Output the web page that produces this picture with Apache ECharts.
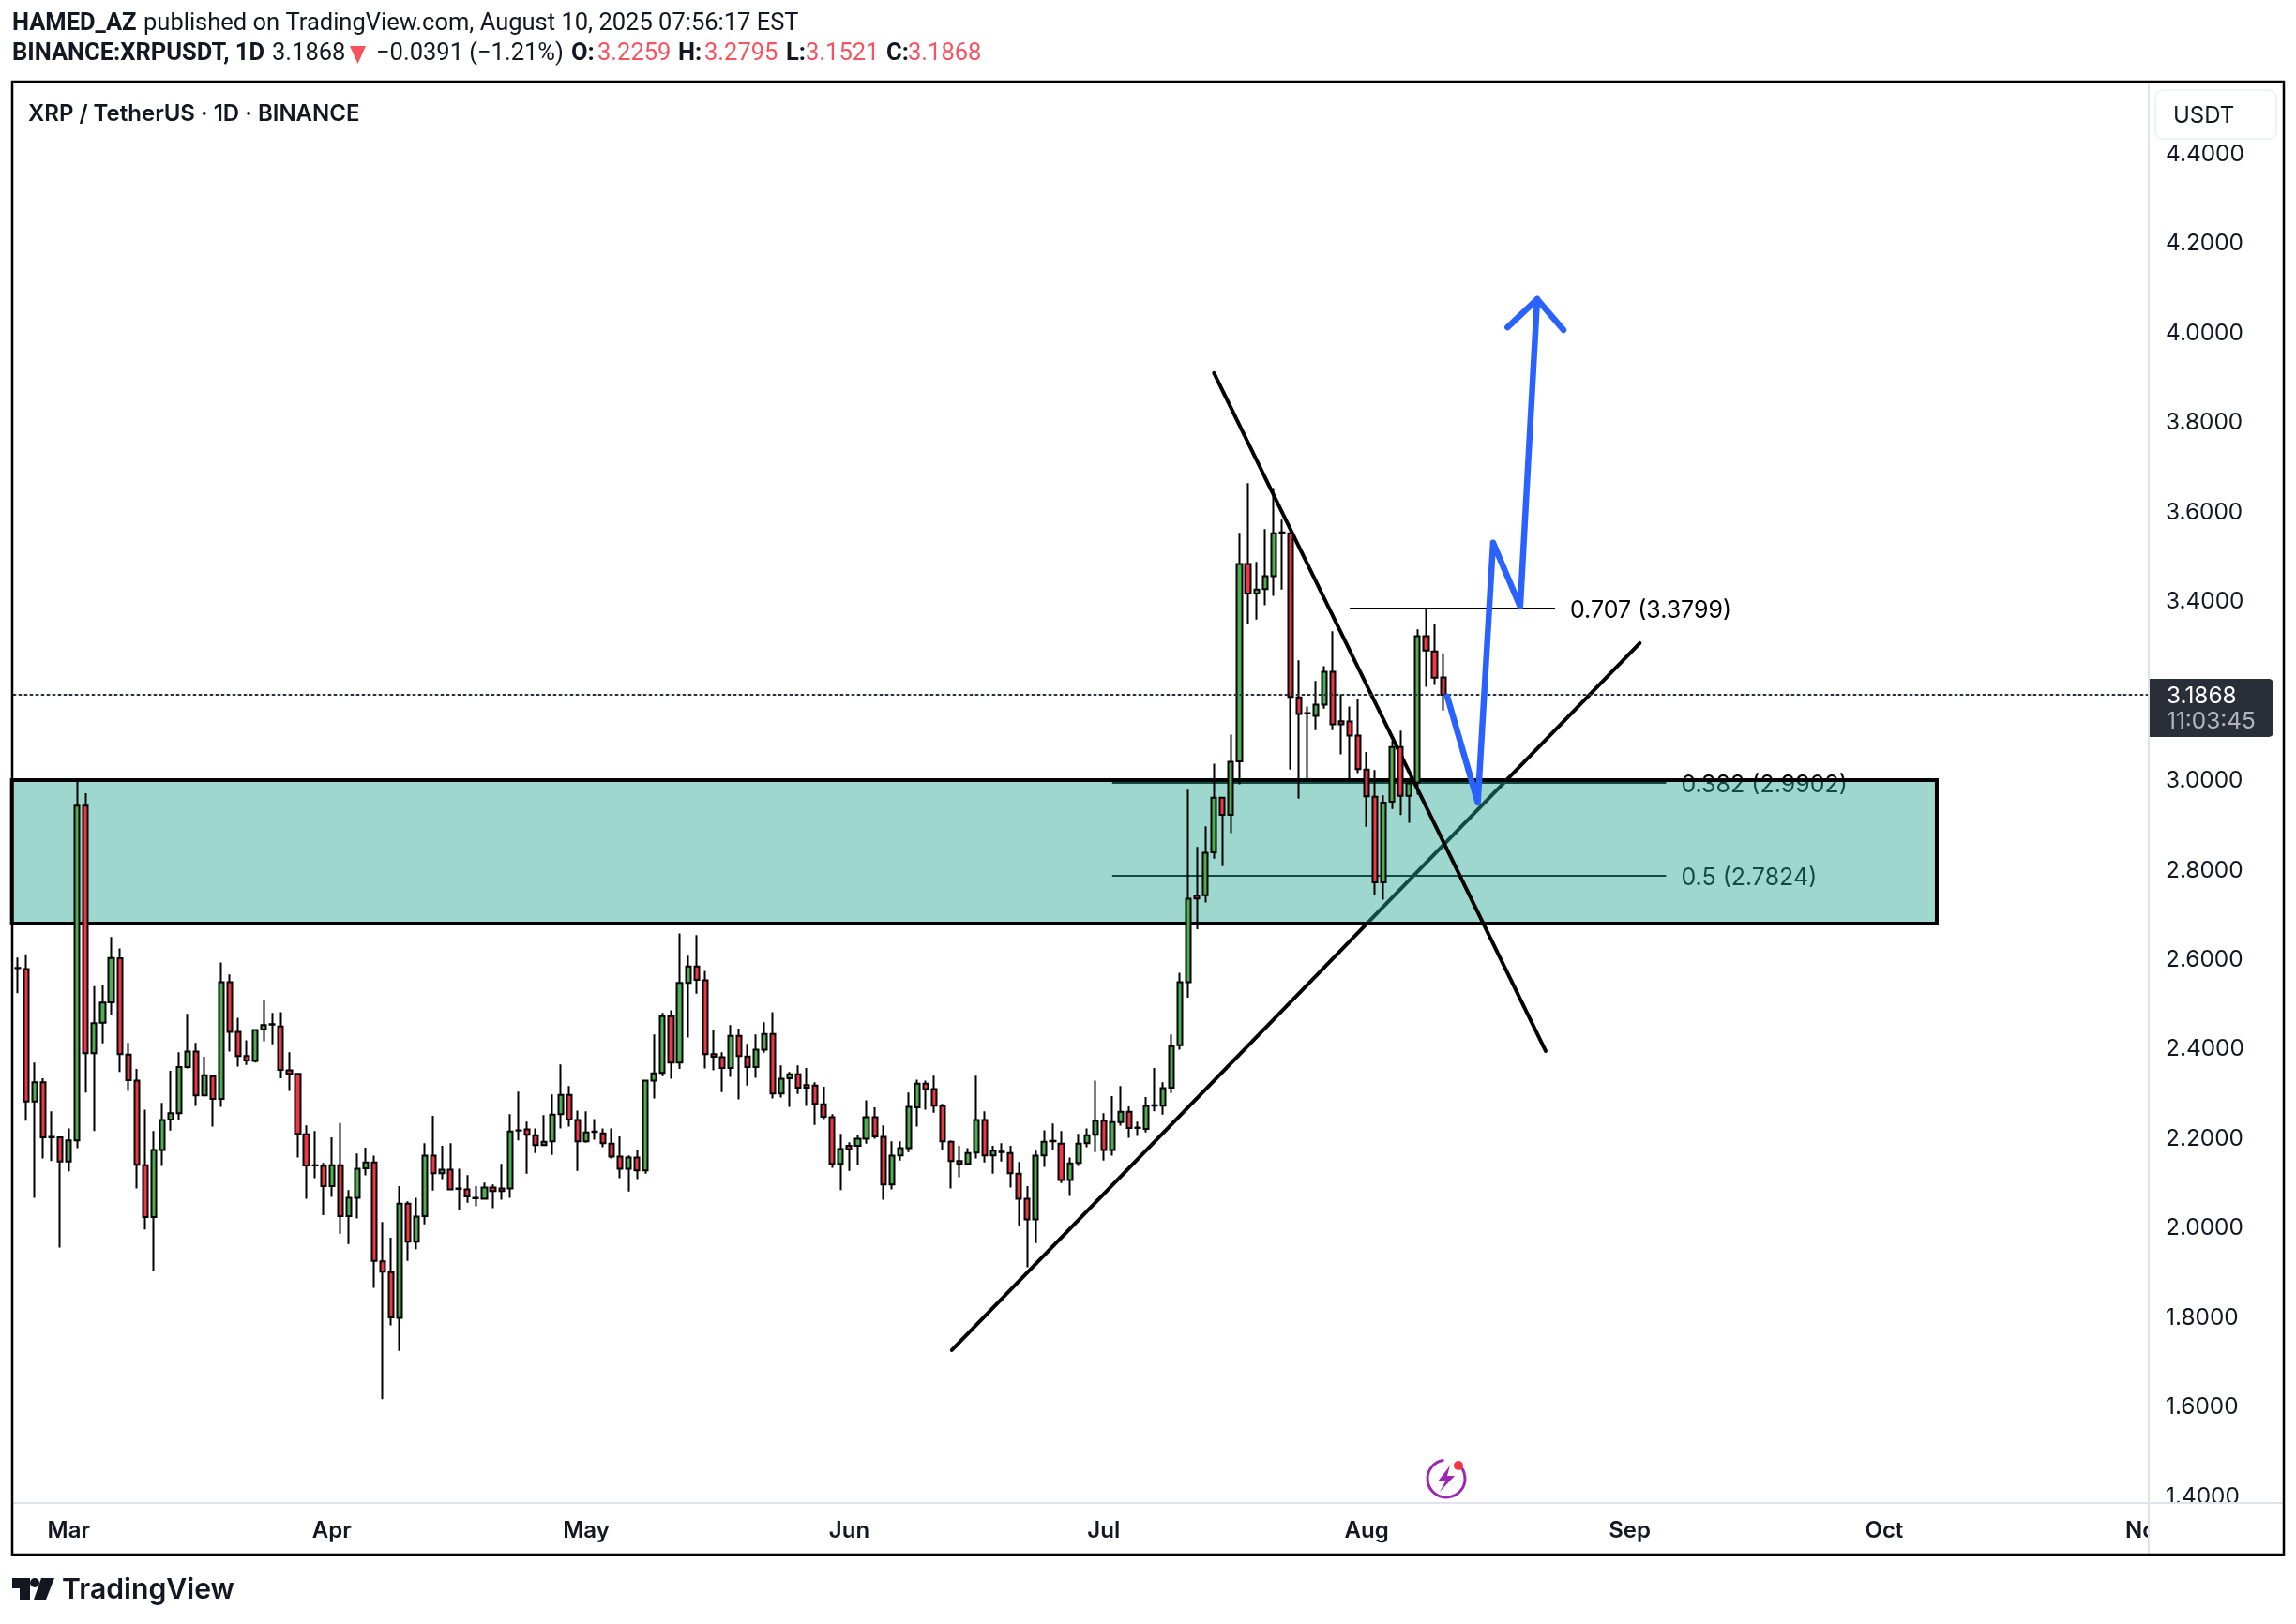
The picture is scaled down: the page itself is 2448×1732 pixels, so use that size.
<!DOCTYPE html>
<html>
<head>
<meta charset="utf-8">
<title>XRPUSDT</title>
<script src="https://cdn.jsdelivr.net/npm/echarts@6/dist/echarts.min.js"></script>
<style>
  html, body { margin: 0; padding: 0; background: #fff; }
  #main { width: 2448px; height: 1732px; }
</style>
</head>
<body>
<div id="main"></div>
<script>
// daily XRPUSDT candles (first bar is 23 Feb 2025)
var opens = [
  2.576,2.574,2.278,2.321,2.199,2.198,2.144,2.191,2.939,2.386,
  2.454,2.500,2.598,2.383,2.325,2.136,2.020,2.170,2.238,2.252,
  2.355,2.390,2.292,2.335,2.284,2.545,2.434,2.380,2.369,2.439,
  2.451,2.446,2.348,2.340,2.205,2.136,2.134,2.089,2.136,2.022,
  2.063,2.129,2.142,1.921,1.897,1.795,2.050,1.965,2.022,2.157,
  2.118,2.126,2.084,2.082,2.063,2.061,2.086,2.084,2.084,2.214,
  2.216,2.203,2.181,2.189,2.250,2.293,2.237,2.189,2.211,2.207,
  2.184,2.155,2.128,2.153,2.124,2.325,2.342,2.469,2.365,2.543,
  2.580,2.549,2.384,2.377,2.353,2.425,2.379,2.355,2.394,2.429,
  2.296,2.330,2.339,2.315,2.314,2.272,2.243,2.139,2.179,2.179,
  2.195,2.243,2.199,2.093,2.158,2.174,2.265,2.318,2.306,2.268,
  2.188,2.145,2.139,2.164,2.237,2.158,2.166,2.163,2.117,2.061,
  2.015,2.158,2.190,2.184,2.103,2.141,2.185,2.204,2.235,2.170,
  2.232,2.255,2.220,2.217,2.270,2.269,2.309,2.404,2.545,2.738,
  2.739,2.835,2.957,2.919,3.038,3.479,3.413,3.423,3.452,3.550,
  3.548,3.181,3.146,3.140,3.165,3.238,3.128,3.127,3.096,3.020,
  2.959,2.768,2.948,3.070,2.961,2.991,3.318,3.284,3.2259
];
var closes = [
  2.577,2.278,2.321,2.198,2.198,2.144,2.191,2.939,2.386,2.453,
  2.499,2.599,2.384,2.326,2.137,2.020,2.170,2.237,2.252,2.355,
  2.390,2.292,2.337,2.284,2.545,2.434,2.380,2.370,2.438,2.449,
  2.450,2.349,2.340,2.206,2.135,2.135,2.089,2.136,2.022,2.063,
  2.128,2.142,1.922,1.898,1.796,2.050,1.965,2.021,2.157,2.118,
  2.126,2.082,2.083,2.066,2.062,2.086,2.078,2.078,2.211,2.213,
  2.204,2.181,2.188,2.249,2.293,2.238,2.189,2.209,2.210,2.185,
  2.155,2.128,2.153,2.124,2.325,2.341,2.469,2.365,2.543,2.580,
  2.550,2.384,2.378,2.353,2.425,2.380,2.355,2.394,2.429,2.296,
  2.329,2.339,2.309,2.309,2.273,2.244,2.139,2.172,2.172,2.195,
  2.243,2.200,2.093,2.157,2.174,2.266,2.318,2.306,2.269,2.189,
  2.145,2.139,2.163,2.237,2.158,2.168,2.165,2.118,2.061,2.015,
  2.157,2.188,2.189,2.103,2.140,2.184,2.203,2.235,2.170,2.232,
  2.255,2.219,2.219,2.268,2.269,2.308,2.402,2.545,2.731,2.732,
  2.834,2.957,2.919,3.037,3.479,3.413,3.422,3.452,3.548,3.549,
  3.182,3.144,3.145,3.165,3.238,3.121,3.121,3.096,3.021,2.960,
  2.768,2.946,3.070,2.961,2.989,3.318,3.286,3.225,3.1868
];
var lows = [
  2.520,2.235,2.063,2.151,2.145,1.952,2.122,2.174,2.298,2.212,
  2.408,2.472,2.344,2.302,2.084,1.992,1.900,2.134,2.213,2.237,
  2.352,2.268,2.292,2.222,2.266,2.390,2.356,2.360,2.365,2.413,
  2.406,2.330,2.302,2.153,2.061,2.107,2.024,2.065,1.983,1.960,
  2.017,2.113,1.862,1.613,1.778,1.721,1.922,1.948,2.004,2.079,
  2.105,2.082,2.036,2.052,2.044,2.059,2.040,2.059,2.063,2.191,
  2.117,2.163,2.181,2.159,2.218,2.222,2.123,2.186,2.193,2.176,
  2.151,2.107,2.077,2.105,2.117,2.285,2.335,2.329,2.351,2.421,
  2.519,2.352,2.348,2.299,2.333,2.283,2.314,2.331,2.387,2.285,
  2.287,2.266,2.295,2.268,2.226,2.239,2.130,2.080,2.123,2.136,
  2.184,2.195,2.059,2.082,2.146,2.165,2.222,2.260,2.253,2.170,
  2.084,2.109,2.139,2.151,2.142,2.117,2.144,2.086,2.000,1.908,
  1.962,2.132,2.170,2.096,2.067,2.134,2.176,2.165,2.146,2.157,
  2.224,2.197,2.201,2.209,2.256,2.249,2.297,2.394,2.510,2.663,
  2.723,2.821,2.804,2.878,2.987,3.345,3.355,3.387,3.408,3.422,
  3.020,2.955,2.995,3.108,3.156,3.108,3.054,2.997,3.012,2.892,
  2.739,2.729,2.932,2.918,2.901,2.964,3.205,3.209,3.1521
];
var highs = [
  2.600,2.607,2.365,2.330,2.256,2.200,2.218,2.996,2.967,2.536,
  2.539,2.646,2.620,2.409,2.351,2.260,2.212,2.275,2.347,2.388,
  2.474,2.409,2.378,2.337,2.589,2.562,2.465,2.415,2.440,2.504,
  2.476,2.478,2.388,2.342,2.225,2.212,2.141,2.198,2.230,2.080,
  2.162,2.175,2.157,2.009,1.974,2.089,2.055,2.063,2.185,2.246,
  2.179,2.185,2.128,2.114,2.089,2.097,2.093,2.139,2.250,2.300,
  2.233,2.218,2.248,2.294,2.361,2.313,2.258,2.256,2.239,2.218,
  2.218,2.200,2.158,2.170,2.327,2.428,2.476,2.482,2.654,2.604,
  2.650,2.570,2.438,2.388,2.449,2.441,2.407,2.428,2.455,2.478,
  2.359,2.344,2.359,2.353,2.321,2.311,2.250,2.206,2.187,2.204,
  2.281,2.265,2.225,2.189,2.189,2.298,2.327,2.325,2.336,2.273,
  2.191,2.179,2.174,2.336,2.256,2.179,2.185,2.179,2.143,2.089,
  2.168,2.214,2.229,2.212,2.153,2.206,2.218,2.325,2.252,2.290,
  2.313,2.267,2.233,2.288,2.353,2.321,2.428,2.566,2.975,2.847,
  2.893,3.033,2.957,3.098,3.549,3.660,3.484,3.557,3.649,3.578,
  3.549,3.264,3.161,3.218,3.251,3.329,3.188,3.161,3.178,3.059,
  3.019,2.962,3.084,3.107,3.001,3.333,3.378,3.346,3.2795
];

var priceTicks = [1.4,1.6,1.8,2.0,2.2,2.4,2.6,2.8,3.0,3.2,3.4,3.6,3.8,4.0,4.2,4.4];
var monthStarts = { '2025-03-01':'Mar', '2025-04-01':'Apr', '2025-05-01':'May', '2025-06-01':'Jun',
  '2025-07-01':'Jul', '2025-08-01':'Aug', '2025-09-01':'Sep', '2025-10-01':'Oct', '2025-11-01':'Nov' };
var lastPrice = 3.1868;

// drawings, x is the bar number, y is the price
var risingLine  = [[110.1,1.7226],[191.2,3.3023]];
var fallingLine = [[141.0,3.9057],[180.1,2.3909]];
var bluePath    = [[168.5,3.183],[172.1,2.946],[173.9,3.527],[177.1,3.384],[179.1,4.071]];
var blueHead    = [[175.6,4.008],[179.1,4.071],[182.2,4.002]];
// x0, x1, bottom, top
var zoneBox = [[-0.7,226.2,2.6759,2.9964]];
// level, x0, x1, price
var fibLevels = [[0.707,157.0,181.2,3.3799],[0.382,129.0,194.3,2.9902],[0.5,129.0,194.3,2.7824]];

// header pieces: text, left edge, style
var headerLine1 = [['HAMED_AZ',13,'b'],['published on TradingView.com, August 10, 2025 07:56:17 EST',153,'n']];
var headerLine2 = [['BINANCE:XRPUSDT, 1D',13,'b'],['3.1868',290,'n'],['−0.0391 (−1.21%)',401,'n'],
  ['O:',609,'b'],['3.2259',637,'r'],['H:',723,'b'],['3.2795',751,'r'],
  ['L:',838,'b'],['3.1521',859,'r'],['C:',945,'b'],['3.1868',968,'r']];

// 252 daily slots up to 1 Nov, the axis is empty after the last bar
var categories = [];
for (var i = 0; i < 252; i++) {
    categories.push(new Date(Date.UTC(2025, 1, 23 + i)).toISOString().slice(0, 10));
}
var candles = opens.map(function (v, i) {
    return [v, closes[i], lows[i], highs[i]];
});

var uiFont = 'Inter';
var textColor = '#131722';
var headerFonts = { b: 'bold 25.5px Roboto', n: '25.5px Roboto', r: '25.5px Roboto' };

function lineSeries(name, points, color, width, z, type) {
    return {
        name: name,
        type: 'line',
        xAxisIndex: 1,
        yAxisIndex: 0,
        data: points,
        showSymbol: false,
        symbol: 'none',
        silent: true,
        clip: false,
        z: z,
        lineStyle: { color: color, width: width, cap: 'round', join: 'round', type: type || 'solid' }
    };
}

function headerText(pieces, y) {
    return pieces.map(function (p) {
        return {
            type: 'text', z: 50, x: p[1], y: y,
            style: { text: p[0], font: headerFonts[p[2]], fill: p[2] == 'r' ? '#F7525F' : textColor, verticalAlign: 'middle' }
        };
    });
}

var myChart = echarts.init(document.getElementById('main'));

var option = {
    animation: false,
    backgroundColor: '#ffffff',
    grid: { left: 14.5, top: 88, width: 2279.3, height: 1515, containLabel: false },
    xAxis: [{
        type: 'category',
        data: categories,
        position: 'bottom',
        axisLine: { show: true, lineStyle: { color: '#E0E3EB', width: 2 } },
        axisTick: { show: false },
        splitLine: { show: false },
        axisLabel: {
            color: textColor,
            fontFamily: uiFont,
            fontWeight: 600,
            fontSize: 24,
            margin: 18,
            showMaxLabel: true,
            interval: function (index, value) { return !!monthStarts[value]; },
            formatter: function (value) { return monthStarts[value] || ''; }
        }
    }, {
        type: 'value',
        min: -0.5,
        max: 251.5,
        show: false
    }],
    yAxis: [{
        type: 'value',
        position: 'right',
        min: 1.381,
        max: 4.555,
        offset: -2.8,
        axisLine: { show: false },
        axisTick: { show: false },
        splitLine: { show: false },
        axisLabel: {
            customValues: priceTicks,
            color: textColor,
            fontFamily: uiFont,
            fontSize: 24.4,
            margin: 18,
            formatter: function (v) { return '{v|' + v.toFixed(4) + '}'; },
            rich: {
                v: { color: textColor, fontFamily: uiFont, fontSize: 24.4, padding: [5, 0, 0, 0] }
            }
        }
    }],
    series: [
        lineSeries('rising', risingLine, '#000000', 4, 1),
        {
            name: 'fib',
            type: 'custom',
            xAxisIndex: 1,
            yAxisIndex: 0,
            z: 1,
            silent: true,
            clip: false,
            data: fibLevels,
            encode: { x: [1, 2], y: 3 },
            renderItem: function (params, api) {
                var a = api.coord([api.value(1), api.value(3)]);
                var b = api.coord([api.value(2), api.value(3)]);
                return {
                    type: 'group',
                    children: [{
                        type: 'line',
                        shape: { x1: a[0], y1: a[1], x2: b[0], y2: b[1] },
                        style: { stroke: '#000000', lineWidth: 2 }
                    }, {
                        type: 'text',
                        style: {
                            x: b[0] + 16,
                            y: a[1] + 2.5,
                            text: api.value(0) + ' (' + api.value(3).toFixed(4) + ')',
                            fill: '#000000',
                            font: '25px ' + uiFont,
                            textVerticalAlign: 'middle'
                        }
                    }]
                };
            }
        },
        {
            name: 'zone',
            type: 'custom',
            xAxisIndex: 1,
            yAxisIndex: 0,
            z: 2,
            silent: true,
            clip: false,
            data: zoneBox,
            encode: { x: [0, 1], y: [2, 3] },
            renderItem: function (params, api) {
                var a = api.coord([api.value(0), api.value(3)]);
                var b = api.coord([api.value(1), api.value(2)]);
                return {
                    type: 'rect',
                    shape: { x: a[0], y: a[1], width: b[0] - a[0], height: b[1] - a[1] },
                    style: { fill: 'rgba(40,166,144,0.45)', stroke: '#000000', lineWidth: 4 }
                };
            }
        },
        lineSeries('falling', fallingLine, '#000000', 4, 3),
        {
            name: 'XRPUSDT',
            type: 'candlestick',
            xAxisIndex: 0,
            yAxisIndex: 0,
            data: candles,
            barWidth: 5.6,
            z: 4,
            silent: true,
            itemStyle: {
                color: '#4CAF50',
                color0: '#F23645',
                borderColor: '#000000',
                borderColor0: '#000000',
                borderColorDoji: '#000000',
                borderWidth: 2
            }
        },
        lineSeries('last', [[-0.5, lastPrice], [251.2, lastPrice]], '#2A2E39', 2, 5, [2, 4]),
        lineSeries('blue', bluePath, '#2962FF', 6.5, 6),
        lineSeries('blueHead', blueHead, '#2962FF', 6.5, 6)
    ],
    graphic: headerText(headerLine1, 25.5).concat(headerText(headerLine2, 58), [
        { type: 'polygon', z: 50, shape: { points: [[373,49],[390,49],[381.5,68]] }, style: { fill: '#F7525F' } },
        {
            type: 'text', z: 50, x: 30, y: 122,
            style: { text: 'XRP / TetherUS · 1D · BINANCE', font: '600 24px Inter', fill: textColor, verticalAlign: 'middle' }
        },
        // scale corners
        { type: 'rect', z: 40, shape: { x: 2292, y: 88, width: 143, height: 67 }, style: { fill: '#ffffff' } },
        { type: 'rect', z: 40, shape: { x: 2292, y: 1604, width: 143, height: 54 }, style: { fill: '#ffffff' } },
        { type: 'rect', z: 41, shape: { x: 2298, y: 96, width: 129, height: 52, r: 8 }, style: { fill: '#ffffff', stroke: '#F0F3FA', lineWidth: 2 } },
        { type: 'text', z: 42, x: 2317, y: 124, style: { text: 'USDT', font: '24px Inter', fill: textColor, verticalAlign: 'middle' } },
        { type: 'line', z: 43, shape: { x1: 2291, y1: 88, x2: 2291, y2: 1658 }, style: { stroke: '#E0E3EB', lineWidth: 2 } },
        { type: 'line', z: 43, shape: { x1: 13, y1: 1603, x2: 2435, y2: 1603 }, style: { stroke: '#E0E3EB', lineWidth: 2 } },
        // last price tag
        { type: 'rect', z: 44, shape: { x: 2292, y: 724, width: 132, height: 62, r: [0, 5, 5, 0] }, style: { fill: '#2A2E39' } },
        { type: 'text', z: 45, x: 2310, y: 743, style: { text: '3.1868', font: '24.4px Inter', fill: '#ffffff', verticalAlign: 'middle' } },
        { type: 'text', z: 45, x: 2310, y: 770, style: { text: '11:03:45', font: '24.4px Inter', fill: '#B2B5BE', verticalAlign: 'middle' } },
        // frame
        { type: 'rect', z: 46, shape: { x: 13, y: 87, width: 2422, height: 1571 }, style: { fill: 'none', stroke: '#000000', lineWidth: 2.5 } },
        // bolt icon
        { type: 'arc', z: 30, shape: { cx: 1542, cy: 1577, r: 20, startAngle: -0.9, endAngle: -1.7, clockwise: true }, style: { fill: 'none', stroke: '#9C27B0', lineWidth: 3 } },
        { type: 'polygon', z: 30, shape: { points: [[1546,1563],[1533,1580],[1541,1580],[1535,1591],[1551,1574],[1543,1574]] }, style: { fill: '#9C27B0' } },
        { type: 'circle', z: 31, shape: { cx: 1555, cy: 1563, r: 5 }, style: { fill: '#F23645' } },
        // logo
        { type: 'polygon', z: 30, shape: { points: [[13,1683],[32,1683],[32,1706],[21,1706],[21,1694],[13,1694]] }, style: { fill: textColor } },
        { type: 'circle', z: 30, shape: { cx: 37, cy: 1688, r: 5 }, style: { fill: textColor } },
        { type: 'polygon', z: 30, shape: { points: [[44,1683],[58,1683],[49,1706],[36,1706]] }, style: { fill: textColor } },
        { type: 'text', z: 30, x: 66, y: 1696, style: { text: 'TradingView', font: '600 30.2px Inter', fill: textColor, verticalAlign: 'middle' } }
    ])
};

myChart.setOption(option);
</script>
</body>
</html>
